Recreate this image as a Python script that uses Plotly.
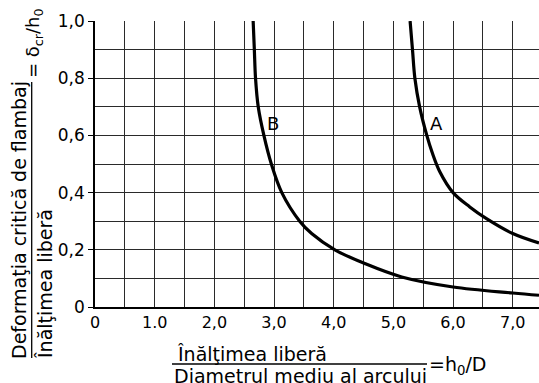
import plotly.graph_objects as go

# ---- data ----
curve_b_x = [2.65, 2.67, 2.69, 2.735, 2.83, 2.955, 3.13, 3.43, 3.63, 4.02, 4.52, 5.14, 6.0, 7.0, 7.44]
curve_b_y = [1.00, 0.90, 0.80, 0.70, 0.60, 0.50, 0.40, 0.30, 0.257, 0.200, 0.152, 0.105, 0.070, 0.049, 0.041]

curve_a_x = [5.28, 5.32, 5.36, 5.44, 5.56, 5.65, 5.78, 6.0, 6.28, 6.56, 7.0, 7.44]
curve_a_y = [1.00, 0.90, 0.80, 0.70, 0.60, 0.540, 0.472, 0.400, 0.350, 0.309, 0.257, 0.224]

curve_labels = ["B", "A"]
label_x = [2.98, 5.72]
label_y = [0.64, 0.64]

x_tick_vals = [0, 1, 2, 3, 4, 5, 6, 7]
x_tick_text = ["0", "1.0", "2,0", "3,0", "4,0", "5,0", "6,0", "7,0"]

y_tick_vals = [0, 0.2, 0.4, 0.6, 0.8, 1.0]
y_tick_text = ["0", "0,2", "0,4", "0,6", "0,8", "1,0"]

FONT = "DejaVu Sans"
W, H = 539, 383
ML, MR, MT, MB = 95, 0, 21, 76
PW = W - ML - MR
PH = H - MT - MB


def px(xp):
    return (xp - ML) / PW


def py(yp):
    return (H - MB - yp) / PH


fig = go.Figure()
for xs, ys in [(curve_b_x, curve_b_y), (curve_a_x, curve_a_y)]:
    fig.add_trace(go.Scatter(x=xs, y=ys, mode="lines",
                             line=dict(color="black", width=3.2, shape="spline", smoothing=1.0),
                             hoverinfo="skip", showlegend=False, cliponaxis=True))

for t, x, y in zip(curve_labels, label_x, label_y):
    fig.add_annotation(x=x, y=y, xref="x", yref="y", text=t, showarrow=False,
                       xanchor="center", yanchor="middle",
                       font=dict(family=FONT, size=18, color="black"))

grid = "#2a2a2a"
fig.update_xaxes(range=[0, 7.44], tickvals=x_tick_vals, ticktext=x_tick_text,
                 showgrid=True, gridcolor=grid, gridwidth=1,
                 minor=dict(dtick=0.5, tick0=0, showgrid=True, gridcolor=grid, gridwidth=1),
                 showline=True, linecolor="black", linewidth=1.5,
                 ticks="", zeroline=False,
                 tickfont=dict(family=FONT, size=16, color="black"))
fig.update_yaxes(range=[0, 1.0], tickvals=y_tick_vals, ticktext=y_tick_text,
                 showgrid=True, gridcolor=grid, gridwidth=1,
                 minor=dict(dtick=0.1, tick0=0, showgrid=True, gridcolor=grid, gridwidth=1),
                 showline=True, linecolor="black", linewidth=1.5,
                 ticks="outside", ticklen=5, tickcolor="black", zeroline=False,
                 tickfont=dict(family=FONT, size=17, color="black"))

txt = dict(family=FONT, size=19, color="black")
# y-axis title (rotated fraction)
fig.add_annotation(x=px(19), y=py(220), xref="paper", yref="paper", text="Deformaţia critică de flambaj",
                   textangle=-90, showarrow=False, xanchor="center", yanchor="middle", font=txt)
fig.add_annotation(x=px(45), y=py(284), xref="paper", yref="paper", text="Înălţimea liberă",
                   textangle=-90, showarrow=False, xanchor="center", yanchor="middle", font=txt)
fig.add_annotation(x=px(34), y=py(43), xref="paper", yref="paper", text="= δ<sub>cr</sub>/h<sub>0</sub>",
                   textangle=-90, showarrow=False, xanchor="center", yanchor="middle",
                   font=dict(family=FONT, size=18, color="black"))
fig.add_shape(type="line", xref="paper", yref="paper", x0=px(31.7), x1=px(31.7), y0=py(358), y1=py(82),
              line=dict(color="black", width=1.3))

# x-axis title (fraction)
fig.add_annotation(x=px(252), y=py(354), xref="paper", yref="paper", text="Înălţimea liberă",
                   showarrow=False, xanchor="center", yanchor="middle", font=txt)
fig.add_annotation(x=px(300), y=py(376), xref="paper", yref="paper", text="Diametrul mediu al arcului",
                   showarrow=False, xanchor="center", yanchor="middle", font=txt)
fig.add_annotation(x=px(457), y=py(365), xref="paper", yref="paper", text="=h<sub>0</sub>/D",
                   showarrow=False, xanchor="center", yanchor="middle", font=txt)
fig.add_shape(type="line", xref="paper", yref="paper", x0=px(172), x1=px(427), y0=py(364), y1=py(364),
              line=dict(color="black", width=1.3))

fig.update_layout(width=W, height=H, margin=dict(l=ML, r=MR, t=MT, b=MB),
                  plot_bgcolor="white", paper_bgcolor="white", showlegend=False)

fig.write_html("out.html", config={"displayModeBar": False},
               post_script="document.body.style.margin='0';document.body.style.overflow='hidden';")
